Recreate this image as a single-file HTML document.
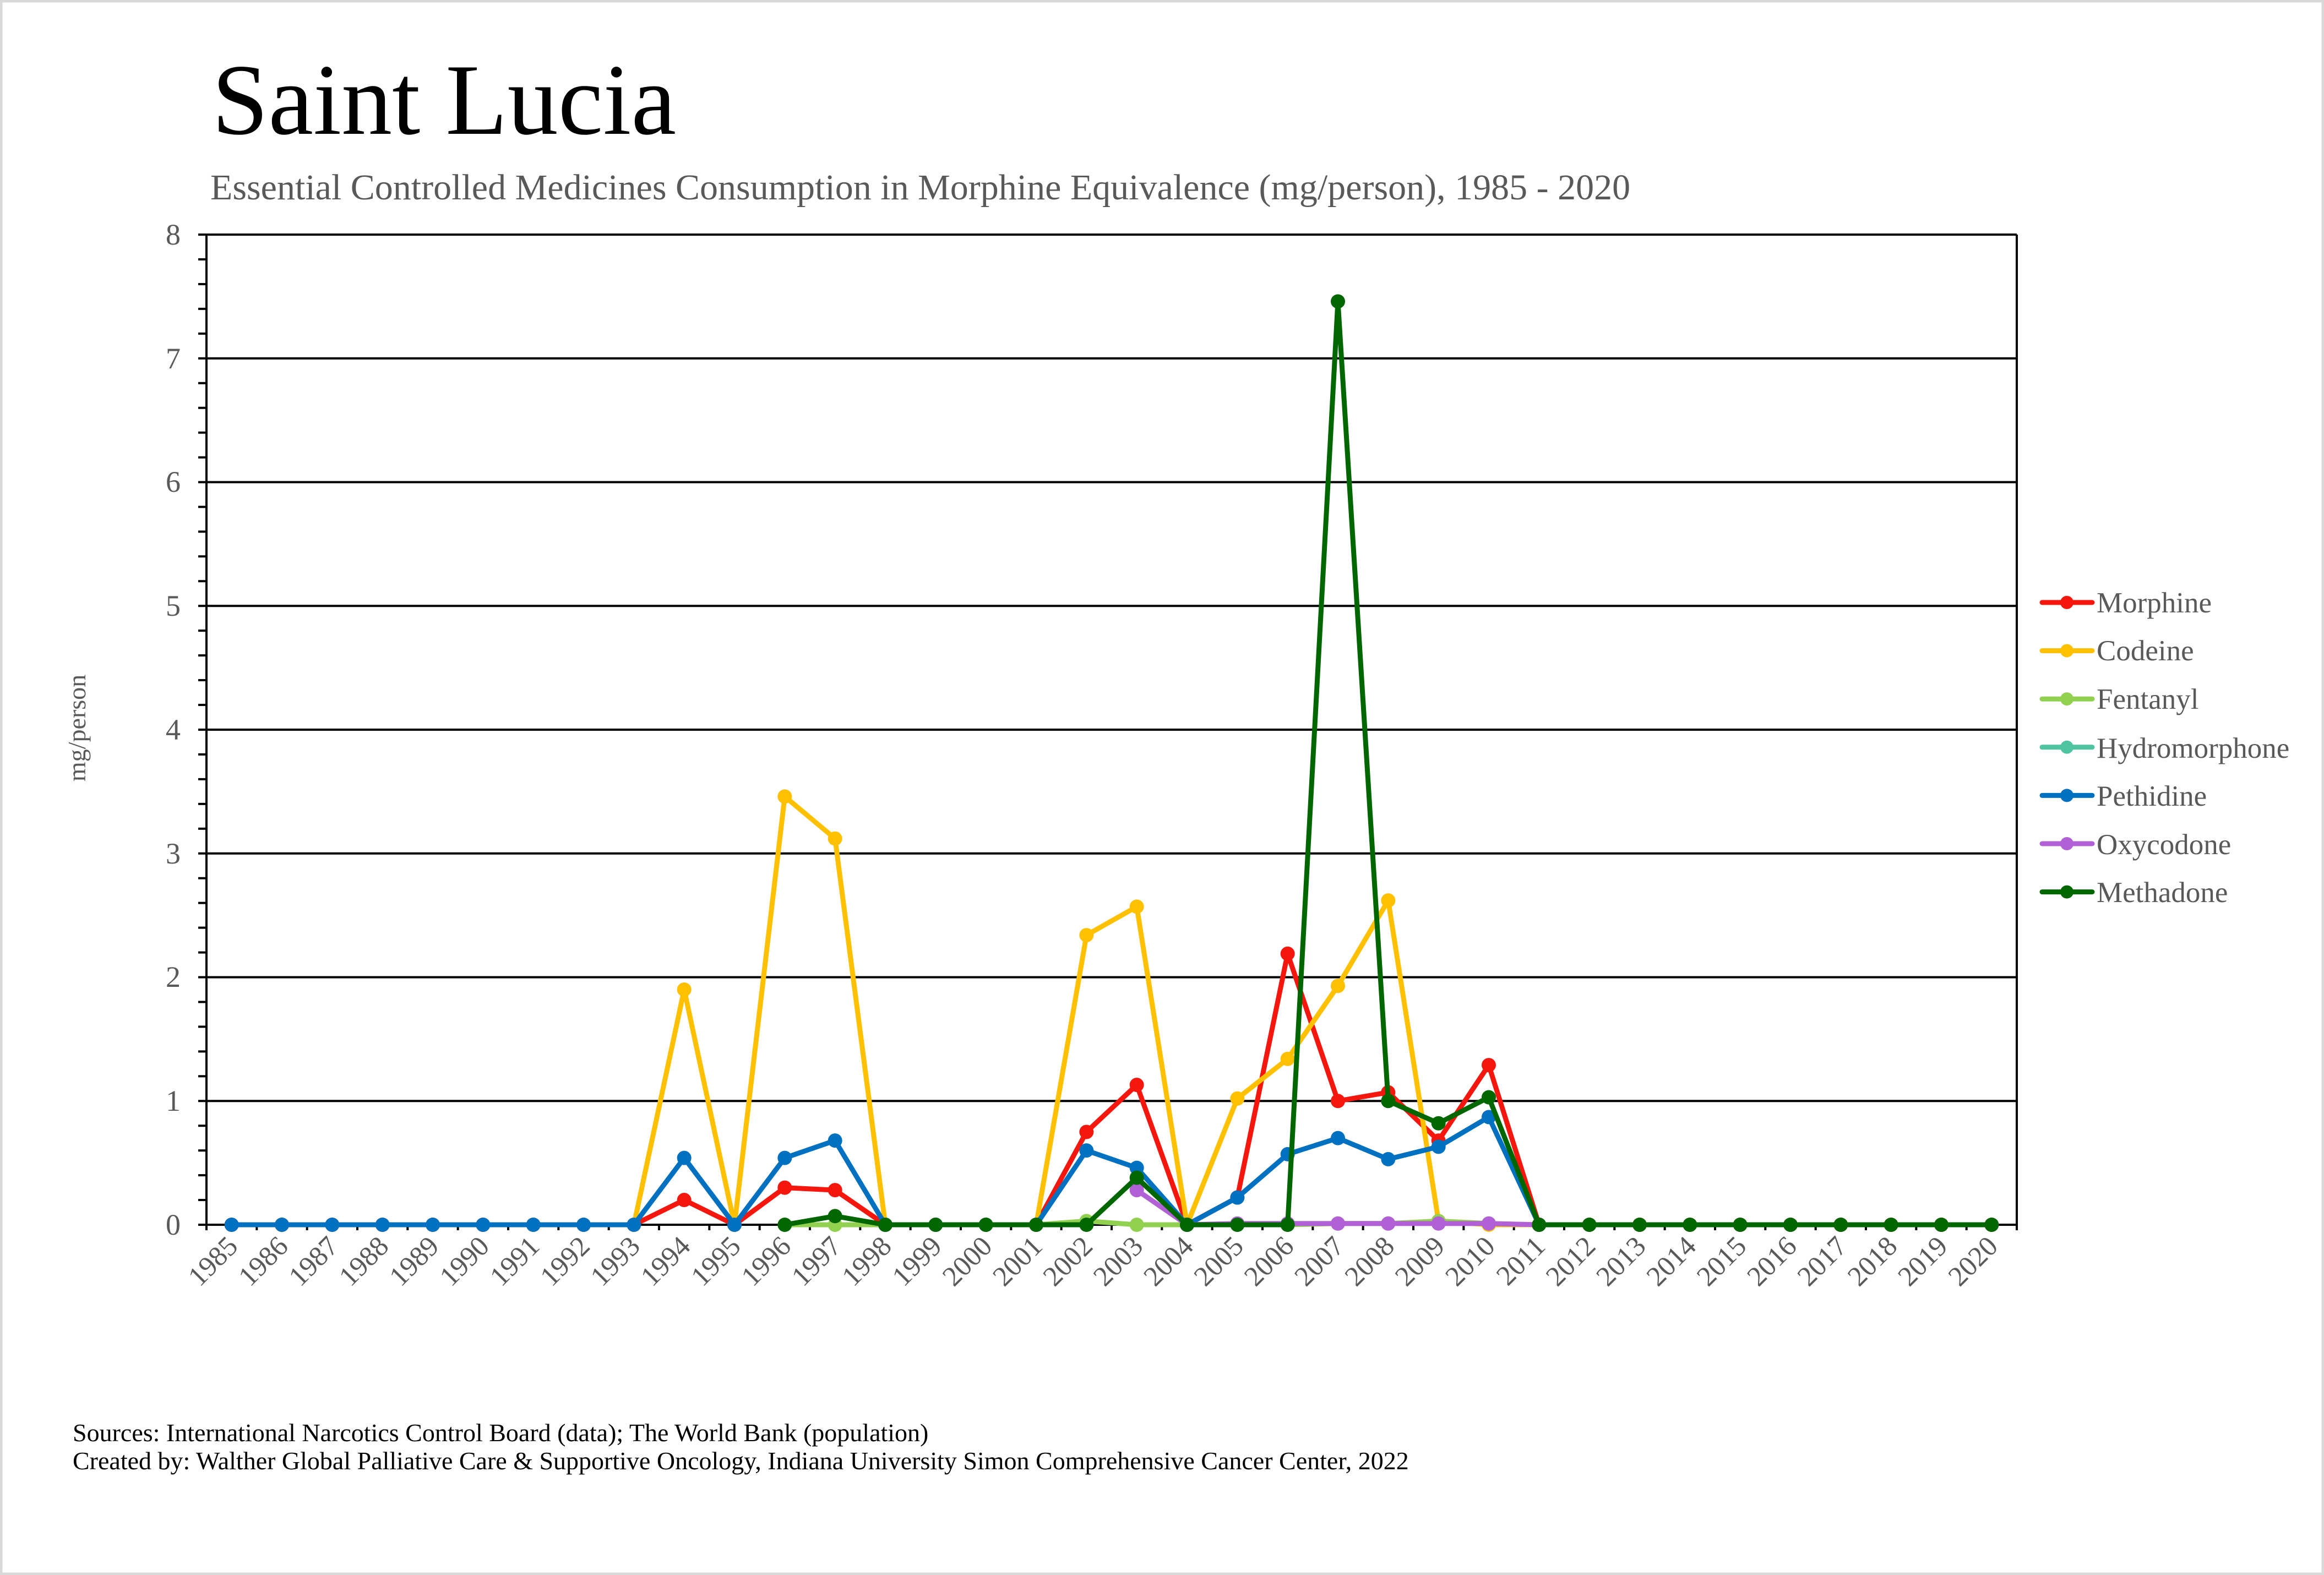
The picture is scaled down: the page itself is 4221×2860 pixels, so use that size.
<!DOCTYPE html>
<html><head><meta charset="utf-8"><style>
html,body{margin:0;padding:0;background:#fff}
svg{display:block}
text{font-family:"Liberation Serif",serif}
</style></head><body>
<svg id="s" width="4221" height="2860" viewBox="0 0 4221 2860" xmlns="http://www.w3.org/2000/svg">
<rect x="2" y="2" width="4217" height="2856" fill="#fff" stroke="#d9d9d9" stroke-width="5"/>
<text x="385" y="243" font-size="184" fill="#000">Saint Lucia</text>
<text x="382" y="362" font-size="66" fill="#595959">Essential Controlled Medicines Consumption in Morphine Equivalence (mg/person), 1985 - 2020</text>
<g id="grid" stroke="#000" stroke-width="4"></g>
<g font-size="54" fill="#595959" text-anchor="end">
<text x="328" y="444">8</text><text x="328" y="669">7</text><text x="328" y="893">6</text><text x="328" y="1118">5</text><text x="328" y="1343">4</text><text x="328" y="1568">3</text><text x="328" y="1792">2</text><text x="328" y="2017">1</text><text x="328" y="2242">0</text>
</g>
<text transform="translate(155,1322) rotate(-90)" font-size="46" fill="#595959" text-anchor="middle">mg/person</text>
<g id="xl" font-size="51" fill="#595959" text-anchor="end">
<text>1985</text><text>1986</text><text>1987</text><text>1988</text><text>1989</text><text>1990</text><text>1991</text><text>1992</text><text>1993</text><text>1994</text><text>1995</text><text>1996</text><text>1997</text><text>1998</text><text>1999</text><text>2000</text><text>2001</text><text>2002</text><text>2003</text><text>2004</text><text>2005</text><text>2006</text><text>2007</text><text>2008</text><text>2009</text><text>2010</text><text>2011</text><text>2012</text><text>2013</text><text>2014</text><text>2015</text><text>2016</text><text>2017</text><text>2018</text><text>2019</text><text>2020</text>
</g>
<g id="series"></g>
<g font-size="53" fill="#595959">
<text x="3808" y="1112">Morphine</text>
<text x="3808" y="1199">Codeine</text>
<text x="3808" y="1287">Fentanyl</text>
<text x="3808" y="1376">Hydromorphone</text>
<text x="3808" y="1463">Pethidine</text>
<text x="3808" y="1551">Oxycodone</text>
<text x="3808" y="1638">Methadone</text>
</g>
<g id="leg"></g>
<text x="132" y="2617" font-size="46" fill="#000">Sources: International Narcotics Control Board (data); The World Bank (population)</text>
<text x="132" y="2668" font-size="46" fill="#000">Created by: Walther Global Palliative Care &amp; Supportive Oncology, Indiana University Simon Comprehensive Cancer Center, 2022</text>
</svg>
<script>
var NS="http://www.w3.org/2000/svg";
function el(p,t,a){var e=document.createElementNS(NS,t);for(var k in a)e.setAttribute(k,a[k]);p.appendChild(e);return e;}
var L=375,R=3663,T=426,B=2224,U=(B-T)/8,W=(R-L)/36;
function X(i){return L+W*(i+0.5);}function Y(v){return B-v*U;}
var g=document.getElementById('grid');
for(var v=0;v<=8;v++){el(g,'line',{x1:360,x2:R,y1:Y(v),y2:Y(v)});}
for(var v=0;v<8;v++)for(var m=1;m<5;m++){el(g,'line',{x1:360,x2:L,y1:Y(v+m*0.2),y2:Y(v+m*0.2)});}
el(g,'line',{x1:L,x2:L,y1:T,y2:B});el(g,'line',{x1:R,x2:R,y1:T,y2:B+10});
for(var i=0;i<=36;i++){el(g,'line',{x1:L+W*i,x2:L+W*i,y1:B,y2:B+10});}
var xl=document.getElementById('xl').children;
for(var i=0;i<xl.length;i++){var x=X(i)+14,y=B+42;xl[i].setAttribute('transform','translate('+x+','+y+') rotate(-45)');}
function arr(start,vals){var a=[];for(var i=0;i<vals.length;i++)a.push([start-1985+i,vals[i]]);return a;}
var S=[
["#f5170d",arr(1985,[0,0,0,0,0,0,0,0,0,0.2,0,0.3,0.28,0,0,0,0,0.75,1.13,0,0.22,2.19,1.0,1.07,0.68,1.29,0,0,0,0,0,0,0,0,0,0])],
["#ffc000",arr(1993,[0,1.9,0,3.46,3.12,0,0,0,0,2.34,2.57,0,1.02,1.34,1.93,2.62,0.03,0,0])],
["#92d050",arr(1996,[0,0,0,0,0,0,0.03,0,0,0,0,0.01,0.01,0.03,0.01,0])],
["#4fc4a0",[]],
["#0070c0",arr(1985,[0,0,0,0,0,0,0,0,0,0.54,0,0.54,0.68,0,0,0,0,0.6,0.46,0,0.22,0.57,0.7,0.53,0.63,0.87,0])],
["#b260d6",arr(2003,[0.28,0,0.01,0.01,0.01,0.01,0.01,0.01,0])],
["#006600",arr(1996,[0,0.07,0,0,0,0,0,0.38,0,0,0,7.46,1.0,0.82,1.03,0,0,0,0,0,0,0,0,0,0])]
];
var sg=document.getElementById('series'),lg=document.getElementById('leg');
S.forEach(function(s,k){
 var pts=s[1];
 if(pts.length){el(sg,'polyline',{points:pts.map(function(p){return X(p[0])+','+Y(p[1]);}).join(' '),fill:'none',stroke:s[0],'stroke-width':9,'stroke-linejoin':'round'});
 pts.forEach(function(p){el(sg,'circle',{cx:X(p[0]),cy:Y(p[1]),r:13,fill:s[0]});});}
 var y=1094+k*87.6;
 el(lg,'line',{x1:3709,x2:3800,y1:y,y2:y,stroke:s[0],'stroke-width':9,'stroke-linecap':'round'});
 el(lg,'circle',{cx:3754,cy:y,r:12,fill:s[0]});
});
</script>
</body></html>
